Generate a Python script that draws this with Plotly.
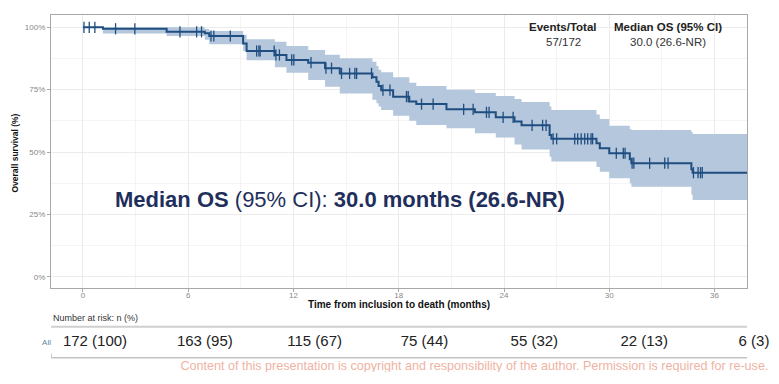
import numpy as np
import plotly.graph_objects as go

# ---------------- data ----------------
km_time = [0, 1.14, 4.77, 6.95, 7.2, 9.13, 9.33, 10.94, 11.6, 12.84, 13.8, 14.64, 16.5, 16.73,
           16.85, 17.0, 17.68, 18.6, 19.0, 20.72, 22.34, 23.53, 24.6, 25.0, 26.6, 26.7, 29.27,
           29.46, 30.0, 31.17, 31.26, 34.68, 34.75, 37.9]
km_surv = [1.0, 0.994, 0.982, 0.976, 0.965, 0.935, 0.905, 0.889, 0.869, 0.858, 0.836, 0.815, 0.800, 0.782,
           0.765, 0.748, 0.722, 0.702, 0.692, 0.671, 0.659, 0.639, 0.622, 0.607, 0.568, 0.553, 0.535,
           0.515, 0.495, 0.471, 0.455, 0.431, 0.417, 0.417]
ci_upper = [1.0, 1.0, 1.0, 0.993, 0.985, 0.970, 0.952, 0.942, 0.925, 0.909, 0.890, 0.876, 0.862, 0.845,
            0.830, 0.820, 0.800, 0.778, 0.765, 0.750, 0.737, 0.725, 0.712, 0.700, 0.682, 0.668, 0.650,
            0.632, 0.605, 0.592, 0.588, 0.580, 0.572, 0.572]
ci_lower = [1.0, 0.975, 0.965, 0.950, 0.932, 0.905, 0.868, 0.840, 0.818, 0.789, 0.762, 0.735, 0.709, 0.695,
            0.682, 0.668, 0.645, 0.625, 0.608, 0.595, 0.575, 0.558, 0.530, 0.510, 0.481, 0.462, 0.440,
            0.421, 0.395, 0.375, 0.361, 0.330, 0.308, 0.308]
censor_time = [0.06, 0.36, 0.68, 1.86, 2.96, 5.53, 6.48, 6.76, 7.3, 7.46, 8.4, 9.9, 10.03, 10.1,
               10.9, 11.0, 11.2, 11.9, 12.02, 13.0, 13.85, 14.17, 14.74, 15.2, 15.5, 15.6, 16.45,
               17.1, 17.5, 18.44, 18.54, 19.3, 19.96, 21.7, 22.24, 23.0, 23.15, 23.95, 24.52, 25.6,
               26.2, 26.4, 26.8, 27.0, 28.03, 28.2, 28.4, 28.6, 28.77, 28.96, 29.05, 30.4, 30.8,
               30.9, 31.3, 31.4, 32.3, 33.16, 33.35, 34.8, 35.06, 35.2, 35.3]
risk_time = [0, 6, 12, 18, 24, 30, 36]
risk_labels = ["172 (100)", "163 (95)", "115 (67)", "75 (44)", "55 (32)", "22 (13)", "6 (3)"]
x_ticks = [0, 6, 12, 18, 24, 30, 36]
y_ticks = [0, 0.25, 0.5, 0.75, 1.0]
y_ticklabels = ["0%", "25%", "50%", "75%", "100%"]

W, H = 779, 384
LINE = "#1F4E80"
BAND = "#B4C7DC"
FONT = "Arial, Liberation Sans, sans-serif"

idx = np.searchsorted(np.array(km_time), np.array(censor_time), side="right") - 1
censor_surv = np.array(km_surv)[idx]

fig = go.Figure()
fig.add_trace(go.Scatter(x=km_time, y=ci_upper, mode="lines", line=dict(width=0, shape="hv"),
                         hoverinfo="skip", showlegend=False))
fig.add_trace(go.Scatter(x=km_time, y=ci_lower, mode="lines", line=dict(width=0, shape="hv"),
                         fill="tonexty", fillcolor=BAND, hoverinfo="skip", showlegend=False))
fig.add_trace(go.Scatter(x=km_time, y=km_surv, mode="lines", line=dict(color=LINE, width=2, shape="hv"),
                         showlegend=False))
fig.add_trace(go.Scatter(x=censor_time, y=censor_surv, mode="markers",
                         marker=dict(symbol="line-ns-open", size=8, color=LINE,
                                     line=dict(color=LINE, width=1.3)),
                         showlegend=False))

# risk table
fig.add_trace(go.Scatter(x=risk_time, y=[0] * len(risk_time), mode="text", text=risk_labels,
                         textfont=dict(size=15, color="#222", family=FONT), cliponaxis=False,
                         xaxis="x2", yaxis="y2", showlegend=False))

# watermark (clipped at bottom like the slide)
fig.add_trace(go.Scatter(x=[0.609], y=[0.22], mode="text",
                         text=["Content of this presentation is copyright and responsibility of the author. Permission is required for re-use."],
                         textfont=dict(size=12.6, color="#F0B3A3", family=FONT),
                         xaxis="x3", yaxis="y3", showlegend=False))

xd = [51 / W, 747 / W]
ty0, ty1 = 1 - 357.7 / H, 1 - 326.7 / H
fig.update_layout(
    width=W, height=H, margin=dict(l=0, r=0, t=0, b=0),
    paper_bgcolor="white", plot_bgcolor="white",
    font=dict(family=FONT),
    xaxis=dict(domain=xd, range=[-1.82, 37.85], tickvals=x_ticks, showgrid=True, gridcolor="#EBEBEB",
               gridwidth=1, minor=dict(dtick=3, tick0=0, showgrid=True, gridcolor="#F4F4F4", gridwidth=0.8),
               showline=True, mirror=True, linecolor="#A8A8A8", linewidth=1.3, ticks="outside", ticklen=3,
               tickcolor="#A8A8A8", tickfont=dict(size=8, color="#888"), zeroline=False,
               ticklabelstandoff=-4),
    yaxis=dict(domain=[1 - 288 / H, 1 - 15 / H], range=[-0.0453, 1.0493], tickvals=y_ticks,
               ticktext=y_ticklabels, showgrid=True, gridcolor="#EBEBEB", gridwidth=1,
               minor=dict(dtick=0.125, tick0=0, showgrid=True, gridcolor="#F4F4F4", gridwidth=0.8),
               showline=True, mirror=True, linecolor="#A8A8A8", linewidth=1.3, ticks="outside", ticklen=3,
               tickcolor="#A8A8A8", tickfont=dict(size=8, color="#888"), zeroline=False),
    xaxis2=dict(domain=[0, 1], range=[-95 / 18.306, (W - 95) / 18.306], anchor="y2", showgrid=False,
                zeroline=False, showticklabels=False, showline=False),
    yaxis2=dict(domain=[ty0, ty1], range=[-1, 1], anchor="free", position=51 / W, tickvals=[0],
                ticktext=["All"], tickfont=dict(size=8, color="#5A86A8"), showgrid=False, zeroline=False,
                showline=False),
    xaxis3=dict(domain=[0, 1], range=[0, 1], anchor="y3", visible=False),
    yaxis3=dict(domain=[1 - 372 / H, 1 - 350 / H], range=[0, 1], anchor="x3", visible=False),
    shapes=[
        dict(type="line", xref="paper", yref="paper", x0=51 / W, x1=747 / W, y0=ty1, y1=ty1,
             line=dict(color="#CFCFCF", width=2)),
        dict(type="line", xref="paper", yref="paper", x0=51 / W, x1=747 / W, y0=ty0, y1=ty0,
             line=dict(color="#C4C4C4", width=1.5)),
        dict(type="line", xref="paper", yref="paper", x0=51.5 / W, x1=51.5 / W, y0=ty0, y1=ty0 + 4 / H,
             line=dict(color="#C4C4C4", width=1)),
    ],
)

ann = [
    dict(text="<b>Median OS</b> (95% CI): <b>30.0 months (26.6-NR)</b>", x=113 / W, y=1 - 199.5 / H,
         xanchor="left", yanchor="middle", font=dict(size=22, color="#1F2F5C", family=FONT)),
    dict(text="<b>Events/Total</b>", x=563 / W, y=1 - 26.7 / H, xanchor="center", yanchor="middle",
         font=dict(size=11.5, color="#222", family=FONT)),
    dict(text="<b>Median OS (95% CI)</b>", x=667.7 / W, y=1 - 26.7 / H, xanchor="center", yanchor="middle",
         font=dict(size=11.5, color="#222", family=FONT)),
    dict(text="57/172", x=563 / W, y=1 - 41.7 / H, xanchor="center", yanchor="middle",
         font=dict(size=11.5, color="#333", family=FONT)),
    dict(text="30.0 (26.6-NR)", x=667.7 / W, y=1 - 41.7 / H, xanchor="center", yanchor="middle",
         font=dict(size=11.5, color="#333", family=FONT)),
    dict(text="<b>Time from inclusion to death (months)</b>", x=399 / W, y=1 - 304.5 / H,
         xanchor="center", yanchor="middle", font=dict(size=10, color="#111", family=FONT)),
    dict(text="<b>Overall survival (%)</b>", x=15 / W, y=1 - 153.5 / H, textangle=-90,
         xanchor="center", yanchor="middle", font=dict(size=8.5, color="#111", family=FONT)),
    dict(text="Number at risk: n (%)", x=51 / W, y=1 - 318 / H, xanchor="left", yanchor="middle",
         font=dict(size=9, color="#333", family=FONT)),
]
for a in ann:
    a.update(xref="paper", yref="paper", showarrow=False)
fig.update_layout(annotations=ann)

fig.write_html("out.html", config={"displayModeBar": False},
               post_script="document.body.style.margin='0px';")
